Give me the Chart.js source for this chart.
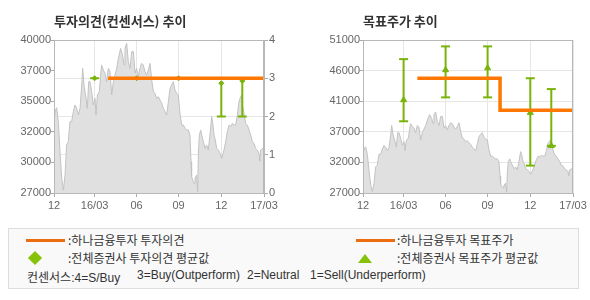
<!DOCTYPE html>
<html>
<head>
<meta charset="utf-8">
<script src="https://cdn.jsdelivr.net/npm/chart.js@4"></script>
<style>
  body { margin: 0; background: #fff; width: 590px; height: 300px; overflow: hidden; position: relative; }
  .box { position: absolute; top: 0; height: 215px; }
  #legend { position: absolute; left: 8px; top: 228px; width: 569px; height: 59px; border: 1px solid #ddd; background: #f9f9f9;
    font-family: "Noto Sans CJK KR", sans-serif; font-size: 12px; color: #333; }
  #legend span, #legend i { position: absolute; white-space: nowrap; }
  #legend .cons { font-family: "Liberation Sans", "Noto Sans CJK KR", sans-serif; font-size: 12px; top: 39px; }
  .oline { width: 39px; height: 3px; background: #ec6d10; }
  .dia { width: 10px; height: 10px; background: #86c20a; transform: rotate(45deg); }
  .tri { width: 0; height: 0; border-left: 7px solid transparent; border-right: 7px solid transparent; border-bottom: 9px solid #86c20a; }
</style>
</head>
<body>
<div class="box" style="left:0;width:295px"><canvas id="opinionChart"></canvas></div>
<div class="box" style="left:300px;width:290px"><canvas id="targetChart"></canvas></div>
<div id="legend">
  <i class="oline" style="left:17px;top:10px"></i>
  <span style="left:59px;top:2px">:하나금융투자 투자의견</span>
  <i class="dia" style="left:21px;top:24px"></i>
  <span style="left:59px;top:20px">:전체증권사 투자의견 평균값</span>
  <i class="oline" style="left:347px;top:10px"></i>
  <span style="left:388px;top:2px">:하나금융투자 목표주가</span>
  <i class="tri" style="left:349px;top:25px"></i>
  <span style="left:388px;top:20px">:전체증권사 목표주가 평균값</span>
  <span class="cons" style="left:18px">컨센서스:4=S/Buy</span>
  <span class="cons" style="left:128px">3=Buy(Outperform)</span>
  <span class="cons" style="left:238px">2=Neutral</span>
  <span class="cons" style="left:301px">1=Sell(Underperform)</span>
</div>
<script>
// ---------------- Data ----------------
const xTickMonths = [0, 2.9, 5.9, 8.9, 11.95, 15];
const xTickLabels = ["12", "16/03", "06", "09", "12", "17/03"];
const priceTicksLeft = ["27000", "30000", "32000", "35000", "37000", "40000"];
const priceTicksRight = ["27000", "32000", "37000", "41000", "46000", "51000"];
const opinionTicks = ["0", "1", "2", "3", "4"];

// months since 2015/12
const priceMonth = [
  0.00, 0.07, 0.19, 0.31, 0.43, 0.55, 0.67, 0.79, 0.90, 1.02, 1.14, 1.26, 1.38, 1.50, 1.62, 1.74, 1.86, 1.98,
  2.05, 2.14, 2.29, 2.38, 2.48, 2.57, 2.69, 2.81, 2.93, 3.00, 3.10, 3.24, 3.33, 3.40, 3.52, 3.64, 3.76, 3.88,
  4.00, 4.12, 4.24, 4.36, 4.48, 4.60, 4.76, 4.90, 5.00, 5.07, 5.19, 5.31, 5.43, 5.55, 5.67, 5.79, 5.90, 6.02,
  6.14, 6.26, 6.38, 6.50, 6.62, 6.74, 6.86, 6.98, 7.10, 7.21, 7.33, 7.45, 7.57, 7.69, 7.81, 7.93, 8.05, 8.17,
  8.29, 8.40, 8.52, 8.64, 8.76, 8.88, 9.00, 9.12, 9.24, 9.36, 9.48, 9.60, 9.71, 9.79, 9.83, 9.95, 10.00, 10.07,
  10.19, 10.26, 10.31, 10.38, 10.48, 10.55, 10.67, 10.79, 10.90, 11.02, 11.14, 11.26, 11.33, 11.43, 11.50, 11.62,
  11.74, 11.86, 11.98, 12.05, 12.14, 12.26, 12.38, 12.50, 12.62, 12.74, 12.86, 12.98, 13.10, 13.21, 13.29, 13.40,
  13.48, 13.57, 13.69, 13.81, 13.93, 14.05, 14.17, 14.29, 14.40, 14.52, 14.64, 14.70, 14.76, 14.90, 15.00
];
const priceValue = [
  33600, 33900, 34250, 33060, 30500, 28250, 27250, 28530, 31080, 31360, 33060, 33060, 33910, 34480, 34190, 33630, 34190, 36180,
  37590, 36180, 35040, 34190, 36460, 36460, 35610, 34480, 35040, 33630, 35330, 35610, 37030, 37880, 37450, 37170, 36460, 37590,
  37310, 35330, 36460, 37030, 37590, 38440, 39290, 38730, 37880, 39290, 39720, 38160, 37590, 39010, 39010, 37170, 37590, 36890,
  37590, 38020, 37870, 37310, 37030, 37450, 38020, 36600, 35610, 35470, 35040, 35190, 34900, 34620, 34190, 33910, 33630, 34760,
  35890, 36180, 36460, 35750, 35470, 35330, 33770, 32780, 32780, 32500, 32350, 32350, 31930, 29660, 28390, 27960, 27820, 28250,
  28530, 27110, 30230, 31930, 32350, 31930, 31360, 30790, 31080, 30650, 31930, 33490, 33060, 31930, 31640, 30790,
  30650, 30370, 29950, 30230, 30650, 31360, 32210, 32780, 32640, 32920, 32780, 32780, 33630, 34760, 35040, 35330,
  34340, 33770, 32920, 32780, 32350, 31930, 31360, 31220, 30790, 30650, 30370, 29700, 30650, 30790, 30650
];

// 하나금융투자
const opinionMonth = [3.86, 15];
const opinionValue = [3, 3];
const targetMonth = [3.88, 9.79, 15];
const targetValue = [45000, 40000, 40000];

// 전체증권사 consensus
const consMonth = [2.9, 5.9, 8.9, 11.95, 13.45];
const opinionConsAvg = [3, 3, 3, 2.87, 2.93];
const opinionConsMin = [3, 3, 3, 2, 2];
const targetConsMax = [48000, 50000, 50000, 45000, 43300];
const targetConsAvg = [41600, 46300, 46600, 39600, 34400];
const targetConsMin = [38250, 42000, 42000, 31300, 34400];

// ---------------- Helpers ----------------
const ORANGE = "#ff7700";
const GREEN = "#78b40a";
const GRID = "#e6e6e6";
const AXIS = "#b8b8b8";
const TICK_FONT = { family: "Liberation Sans", size: 11 };
const TITLE_FONT = { family: "Noto Sans CJK KR", size: 13, weight: "bold", lineHeight: 1.2 };

const pts = (xs, ys) => xs.map((x, i) => ({ x, y: ys[i] }));

function barPoints(lo, hi) {
  const out = [];
  consMonth.forEach((m, i) => {
    out.push({ x: m, y: hi[i] }, { x: m, y: lo[i] }, { x: m, y: null });
  });
  return out;
}

const frame = {
  id: "frame",
  afterDatasetsDraw(chart) {
    const { ctx, chartArea: a } = chart;
    ctx.save();
    ctx.strokeStyle = AXIS;
    ctx.lineWidth = 1;
    ctx.strokeRect(a.left + 0.5, a.top + 0.5, a.right - a.left - 1, a.bottom - a.top);
    ctx.restore();
  }
};

function xAxis() {
  return {
    type: "linear", min: 0, max: 15,
    afterBuildTicks: axis => { axis.ticks = xTickMonths.map(v => ({ value: v })); },
    ticks: { callback: (v, i) => xTickLabels[i], color: "#666", font: TICK_FONT, padding: 2, maxRotation: 0, autoSkip: false },
    grid: { color: GRID, tickLength: 4, tickColor: "#aaa" },
    border: { color: AXIS },
    afterFit: a => { a.height = 22; }
  };
}

function priceDataset() {
  return {
    type: "line", yAxisID: "y", order: 5,
    data: pts(priceMonth, priceValue),
    borderColor: "#c2c2c2", borderWidth: 1, backgroundColor: "#e0e0e0",
    fill: "start", pointRadius: 0, tension: 0
  };
}

function title(text) {
  return { display: true, text, align: "start", fullSize: false, color: "#333", font: TITLE_FONT, padding: { top: 13, bottom: 11.4 } };
}

// ---------------- 투자의견 chart ----------------
new Chart(document.getElementById("opinionChart"), {
  type: "line",
  data: {
    datasets: [
      { yAxisID: "y1", order: 0, data: pts(opinionMonth, opinionValue), borderColor: ORANGE, borderWidth: 3.5, pointRadius: 0 },
      { yAxisID: "y1", order: 1, data: pts(consMonth, opinionConsMin), showLine: false, pointStyle: "line", pointRadius: 4.5,
        borderColor: GREEN, borderWidth: 2 },
      { yAxisID: "y1", order: 2, data: pts(consMonth, opinionConsAvg), showLine: false, pointStyle: "rectRot", pointRadius: 2.5,
        backgroundColor: GREEN, borderColor: GREEN, borderWidth: 1 },
      { yAxisID: "y1", order: 3, data: barPoints(opinionConsMin, opinionConsAvg), borderColor: GREEN, borderWidth: 2, pointRadius: 0, spanGaps: false },
      priceDataset()
    ]
  },
  options: {
    responsive: true, maintainAspectRatio: false, animation: false,
    layout: { padding: 0 },
    plugins: { legend: { display: false }, tooltip: { enabled: false }, title: title("투자의견(컨센서스) 추이") },
    scales: {
      x: xAxis(),
      y: {
        position: "left", min: 27000, max: 40000,
        ticks: { stepSize: 2600, callback: (v, i) => priceTicksLeft[i], color: "#666", font: TICK_FONT, padding: 0 },
        grid: { drawOnChartArea: false, tickLength: 3, tickColor: "#aaa" },
        border: { color: AXIS },
        afterFit: a => { a.width = 54; }
      },
      y1: {
        position: "right", min: 0, max: 4,
        ticks: { stepSize: 1, callback: (v, i) => opinionTicks[i], color: "#666", font: TICK_FONT, padding: 1 },
        grid: { color: GRID, tickLength: 4, tickColor: "#aaa" },
        border: { color: AXIS },
        afterFit: a => { a.width = 31; }
      }
    }
  },
  plugins: [frame]
});

// ---------------- 목표주가 chart ----------------
new Chart(document.getElementById("targetChart"), {
  type: "line",
  data: {
    datasets: [
      { order: 0, data: pts(targetMonth, targetValue), stepped: "before", borderColor: ORANGE, borderWidth: 3.5, pointRadius: 0 },
      { order: 1, data: pts(consMonth, targetConsAvg), showLine: false, pointStyle: "triangle", pointRadius: 3.5,
        backgroundColor: GREEN, borderColor: GREEN, borderWidth: 1 },
      { order: 2, data: barPoints(targetConsMin, targetConsMax), borderColor: GREEN, borderWidth: 2, pointRadius: 0, spanGaps: false },
      { order: 2, data: pts(consMonth, targetConsMax).concat(pts(consMonth, targetConsMin)), showLine: false,
        pointStyle: "line", pointRadius: 4.5, borderColor: GREEN, borderWidth: 2 },
      priceDataset()
    ]
  },
  options: {
    responsive: true, maintainAspectRatio: false, animation: false,
    layout: { padding: { right: 17 } },
    plugins: { legend: { display: false }, tooltip: { enabled: false }, title: title("목표주가 추이") },
    scales: {
      x: xAxis(),
      y: {
        position: "left", min: 27000, max: 51000,
        ticks: { stepSize: 4800, callback: (v, i) => priceTicksRight[i], color: "#666", font: TICK_FONT, padding: 0 },
        grid: { color: GRID, tickLength: 3, tickColor: "#aaa" },
        border: { color: AXIS },
        afterFit: a => { a.width = 63; }
      }
    }
  },
  plugins: [frame]
});
</script>
</body>
</html>
